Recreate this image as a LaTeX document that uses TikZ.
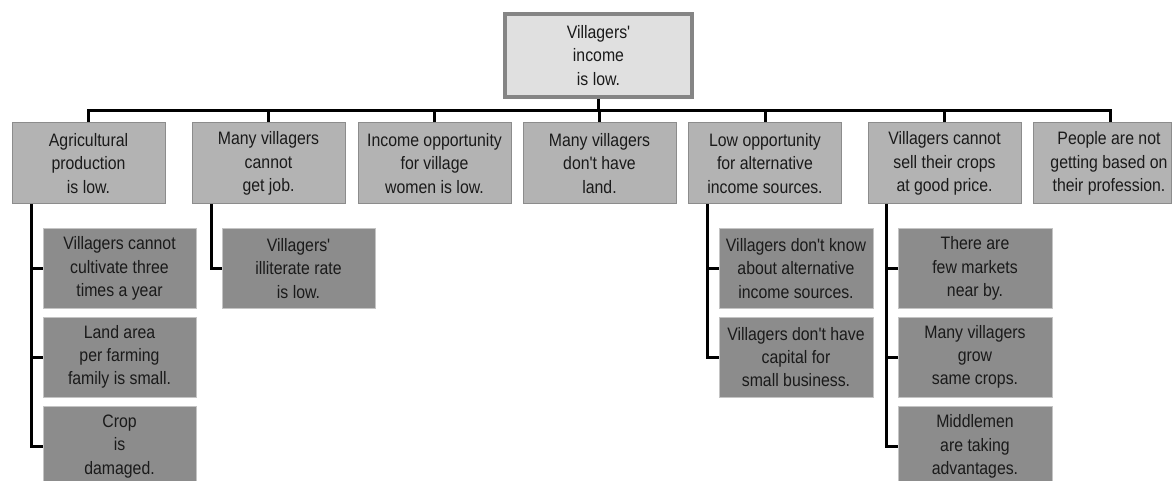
\documentclass[tikz,border=0pt]{standalone}
\usepackage{fontspec}
\setmainfont{Liberation Sans}[FakeStretch=0.88, Ligatures=TeXOff]
\usetikzlibrary{calc}
\definecolor{rootfill}{HTML}{E0E0E0}
\definecolor{rootedge}{HTML}{858585}
\definecolor{midfill}{HTML}{B3B3B3}
\definecolor{midedge}{HTML}{8C8C8C}
\definecolor{lowfill}{HTML}{8C8C8C}
\definecolor{lowedge}{HTML}{C4C4C4}
\definecolor{inkgray}{HTML}{1A1A1A}
\tikzset{
  every node/.style={font=\fontsize{18}{23.3}\selectfont, text=inkgray, align=center, inner sep=0pt},
  rootbox/.style={draw=rootedge, line width=4pt, fill=rootfill, minimum width=187pt, minimum height=83pt},
  causebox/.style={draw=midedge, line width=1pt, fill=midfill, minimum width=153pt, minimum height=81pt},
  subbox/.style={draw=lowedge, line width=1pt, fill=lowfill, minimum width=153pt, minimum height=80pt},
  link/.style={draw=black, line width=3pt},
}
\begin{document}
\begin{tikzpicture}[x=1pt, y=-1pt]
\useasboundingbox (0,0) rectangle (1173,481);
\clip (0,0) rectangle (1173,481);

% root problem
\node[rootbox] (root) at (598.5,55.5) {Villagers'\\income\\is low.};

% direct causes
\node[causebox] (cA) at (88.5,163.5) {Agricultural\\production\\is low.};
\node[causebox] (cB) at (268.5,163.5) {Many villagers\\cannot\\get job.};
\node[causebox] (cC) at (434.5,163.5) {Income opportunity\\for village\\women is low.};
\node[causebox] (cD) at (599.5,163.5) {Many villagers\\don't have\\land.};
\node[causebox] (cE) at (765,163.5) {Low opportunity\\for alternative\\income sources.};
\node[causebox] (cF) at (944.5,163.5) {Villagers cannot\\sell their crops\\at good price.};
\node[causebox, minimum width=138pt] (cG) at (1102,163.5) {};
\node (cGtext) at ($(cG.center)+(7,0)$) {People are not\\getting based on\\their profession.};

% sub-causes
\node[subbox] (a1) at (119.5,268.5) {Villagers cannot\\cultivate three\\times a year};
\node[subbox] (a2) at (119.5,357) {Land area\\per farming\\family is small.};
\node[subbox] (a3) at (119.5,446.5) {Crop\\is\\damaged.};
\node[subbox] (b1) at (298.5,268.5) {Villagers'\\illiterate rate\\is low.};
\node[subbox, minimum width=154pt] (e1) at (796,268.5) {Villagers don't know\\about alternative\\income sources.};
\node[subbox, minimum width=154pt] (e2) at (796,357) {Villagers don't have\\capital for\\small business.};
\node[subbox, minimum width=154pt] (f1) at (975,268.5) {There are\\few markets\\near by.};
\node[subbox, minimum width=154pt] (f2) at (975,357) {Many villagers\\grow\\same crops.};
\node[subbox, minimum width=154pt] (f3) at (975,446.5) {Middlemen\\are taking\\advantages.};

% branching bar under the root
\coordinate (barL) at (88.5,111);
\coordinate (barR) at (1110,111);
\draw[link] (root.south) -- (root.south |- barL);
\draw[link, line cap=rect] (barL) -- (barR);
\foreach \n in {cA,cB,cC,cD,cE,cF}
  \draw[link] (\n.north |- barL) -- (\n.north);
\draw[link] (barR) -- (barR |- cG.north);

% spines to the sub-causes
\coordinate (sA) at (31,0);
\coordinate (sB) at (211,0);
\coordinate (sE) at (707,0);
\coordinate (sF) at (886,0);
\draw[link] (sA |- cA.south) -- (sA |- a3.west) -- (a3.west);
\draw[link] (sA |- a1.west) -- (a1.west);
\draw[link] (sA |- a2.west) -- (a2.west);
\draw[link] (sB |- cB.south) -- (sB |- b1.west) -- (b1.west);
\draw[link] (sE |- cE.south) -- (sE |- e2.west) -- (e2.west);
\draw[link] (sE |- e1.west) -- (e1.west);
\draw[link] (sF |- cF.south) -- (sF |- f3.west) -- (f3.west);
\draw[link] (sF |- f1.west) -- (f1.west);
\draw[link] (sF |- f2.west) -- (f2.west);
\end{tikzpicture}
\end{document}
